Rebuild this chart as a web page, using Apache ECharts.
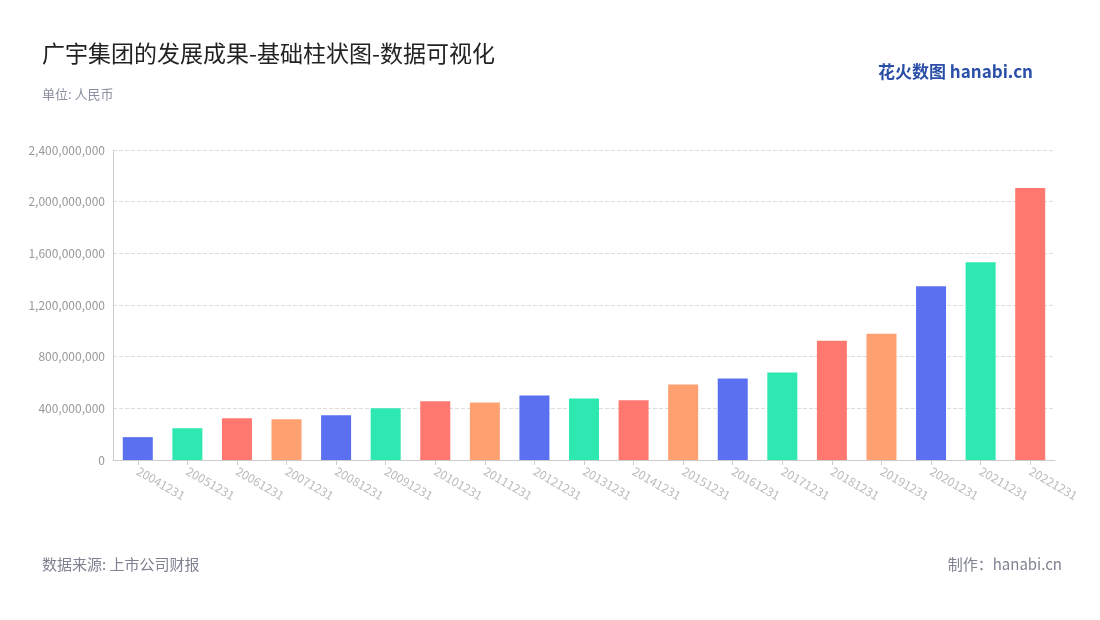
<!DOCTYPE html>
<html><head><meta charset="utf-8">
<script src="https://cdn.jsdelivr.net/npm/echarts@6/dist/echarts.min.js"></script>
<style>html,body{margin:0;padding:0;background:#fff}#c{width:1100px;height:620px}</style>
</head><body><div id="c"></div>
<script>
const categories=['20041231','20051231','20061231','20071231','20081231','20091231','20101231','20111231','20121231','20131231','20141231','20151231','20161231','20171231','20181231','20191231','20201231','20211231','20221231'];
const values=[177000000,246000000,323000000,315000000,346000000,400000000,454000000,446000000,500000000,477000000,462000000,585000000,631000000,677000000,923000000,977000000,1346000000,1531000000,2105000000];
const palette=['#5a70f0','#2de8b0','#ff7870','#ffa070'];
const font='"Noto Sans CJK SC","Noto Sans",sans-serif';
const chart=echarts.init(document.getElementById('c'));
chart.setOption({
  textStyle:{fontFamily:font},
  title:[
    {text:'广宇集团的发展成果-基础柱状图-数据可视化',left:37,top:37,textStyle:{fontSize:23,fontWeight:'normal',color:'#222',fontFamily:font}},
    {text:'单位: 人民币',left:37,top:83,textStyle:{fontSize:13,fontWeight:'normal',color:'#8a8fa0',fontFamily:font}},
    {text:'数据来源: 上市公司财报',left:37,top:552,textStyle:{fontSize:15,fontWeight:'normal',color:'#7f8290',fontFamily:font}},
    {text:'制作：hanabi.cn',right:33,top:552,textStyle:{fontSize:15,fontWeight:'normal',color:'#7f8290',fontFamily:font}},
    {text:'花火数图 hanabi.cn',right:62,top:58,textStyle:{fontSize:17,fontWeight:'bold',color:'#2b4fa8',fontFamily:font}}
  ],
  grid:{left:113,right:45,top:150,bottom:160},
  xAxis:{type:'category',data:categories,
    axisLine:{lineStyle:{color:'#ccc'}},axisTick:{show:true,alignWithLabel:true,lineStyle:{color:'#ccc'}},
    axisLabel:{rotate:-30,color:'#bbb',fontSize:12,interval:0,margin:10}},
  yAxis:{type:'value',min:0,max:2400000000,interval:400000000,
    axisLabel:{color:'#999',fontSize:12,formatter:v=>v.toLocaleString('en-US')},
    axisLine:{show:true,lineStyle:{color:'#ccc'}},
    splitLine:{lineStyle:{type:'dashed',color:'#ddd'}}},
  series:[{type:'bar',data:values,barWidth:30,
    itemStyle:{color:p=>palette[p.dataIndex%4]}}]
});
</script></body></html>
